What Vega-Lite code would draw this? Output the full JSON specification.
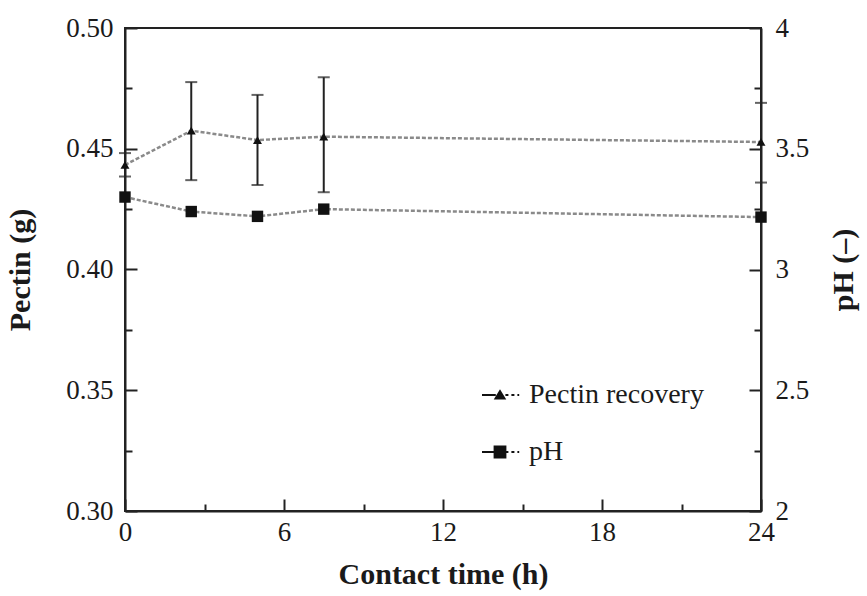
{
  "$schema": "https://vega.github.io/schema/vega-lite/v6.json",
  "width": 636,
  "height": 483,
  "autosize": {"type": "none"},
  "padding": {"left": 125, "top": 28, "right": 106, "bottom": 85},
  "background": "white",
  "config": {
    "view": {"stroke": "#222", "strokeWidth": 2},
    "font": "Liberation Serif",
    "axis": {
      "grid": false,
      "domainColor": "#222",
      "domainWidth": 2,
      "tickColor": "#222",
      "tickWidth": 2,
      "tickSize": 0,
      "labelFont": "Liberation Serif",
      "labelFontSize": 27,
      "labelColor": "#1a1a1a",
      "titleFont": "Liberation Serif",
      "titleFontSize": 30,
      "titleFontWeight": "bold",
      "titleColor": "#1a1a1a"
    }
  },
  "datasets": {
    "pectin": [
      {"time": 0, "pectin": 0.4433, "lo": 0.4385, "hi": 0.4482, "series": "Pectin recovery"},
      {"time": 2.5, "pectin": 0.4575, "lo": 0.437, "hi": 0.4776, "series": "Pectin recovery"},
      {"time": 5, "pectin": 0.4536, "lo": 0.435, "hi": 0.4723, "series": "Pectin recovery"},
      {"time": 7.5, "pectin": 0.455, "lo": 0.432, "hi": 0.4796, "series": "Pectin recovery"},
      {"time": 24, "pectin": 0.4528, "lo": 0.436, "hi": 0.469, "series": "Pectin recovery"}
    ],
    "ph": [
      {"time": 0, "ph": 3.30, "series": "pH"},
      {"time": 2.5, "ph": 3.24, "series": "pH"},
      {"time": 5, "ph": 3.22, "series": "pH"},
      {"time": 7.5, "ph": 3.25, "series": "pH"},
      {"time": 24, "ph": 3.217, "series": "pH"}
    ]
  },
  "encoding": {
    "x": {
      "field": "time",
      "type": "quantitative",
      "scale": {"domain": [0, 24], "nice": false},
      "axis": {
        "title": "Contact time (h)",
        "values": [0, 3, 6, 9, 12, 15, 18, 21, 24],
        "labelExpr": "datum.value % 6 === 0 ? '' + datum.value : ''",
        "labelFlush": false,
        "labelPadding": 8,
        "titlePadding": 14,
        "encoding": {"ticks": {"y2": {"value": {"expr": "datum.value % 6 === 0 ? -12 : -7"}}}}
      }
    }
  },
  "layer": [
    {
      "data": {"name": "pectin"},
      "encoding": {
        "y": {
          "field": "pectin",
          "type": "quantitative",
          "scale": {"domain": [0.3, 0.5], "nice": false, "zero": false},
          "axis": {
            "orient": "left",
            "title": "Pectin (g)",
            "values": [0.3, 0.325, 0.35, 0.375, 0.4, 0.425, 0.45, 0.475, 0.5],
            "labelExpr": "abs(round(datum.value * 1000)) % 50 === 0 ? format(datum.value, '.2f') : ''",
            "labelPadding": 12,
            "titlePadding": 30,
            "encoding": {"ticks": {"x2": {"value": {"expr": "abs(round(datum.value * 1000)) % 50 === 0 ? 12 : 7"}}}}
          }
        }
      },
      "layer": [
        {
          "mark": {"type": "line", "color": "#8a8a8a", "strokeWidth": 2.5, "strokeDash": [4, 2]}
        },
        {
          "mark": {"type": "rule", "color": "#222", "strokeWidth": 2},
          "encoding": {"y": {"field": "lo", "type": "quantitative"}, "y2": {"field": "hi"}}
        },
        {
          "mark": {"type": "tick", "color": "#222", "orient": "horizontal", "size": 12, "thickness": 2},
          "encoding": {"y": {"field": "lo", "type": "quantitative"}}
        },
        {
          "mark": {"type": "tick", "color": "#222", "orient": "horizontal", "size": 12, "thickness": 2},
          "encoding": {"y": {"field": "hi", "type": "quantitative"}}
        },
        {
          "mark": {"type": "point", "filled": true, "color": "#111", "opacity": 1, "size": 80, "shape": "triangle-up"}
        },
        {
          "mark": {"type": "point", "filled": true, "color": "#111", "stroke": "#111", "strokeWidth": 2, "opacity": 0},
          "encoding": {
            "shape": {
              "field": "series",
              "type": "nominal",
              "scale": {
                "domain": ["Pectin recovery", "pH"],
                "range": [
                  "M-3,0H-0.7M-0.75,0.6L0,-0.65L0.75,0.6ZM0.9,0H1.4M1.9,0H2.4M2.9,0H3.2",
                  "M-3,0H-0.9M-0.9,-0.9H0.9V0.9H-0.9ZM0.9,0H1.4M1.9,0H2.4M2.9,0H3.2"
                ]
              },
              "legend": {
                "title": null,
                "orient": "none",
                "legendX": 361,
                "legendY": 353,
                "padding": 0,
                "symbolSize": 144,
                "symbolOpacity": 1,
                "symbolFillColor": "#111",
                "symbolStrokeColor": "#111",
                "symbolStrokeWidth": 2,
                "labelFont": "Liberation Serif",
                "labelFontSize": 28,
                "labelColor": "#1a1a1a",
                "labelLimit": 0,
                "labelOffset": 15,
                "rowPadding": 29,
                "encoding": {
                  "symbols": {
                    "stroke": {"value": "#111"},
                    "strokeWidth": {"value": 2},
                    "fill": {"value": "#111"},
                    "opacity": {"value": 1}
                  }
                }
              }
            }
          }
        }
      ]
    },
    {
      "data": {"name": "ph"},
      "encoding": {
        "y": {
          "field": "ph",
          "type": "quantitative",
          "scale": {"domain": [2, 4], "nice": false, "zero": false},
          "axis": {
            "orient": "right",
            "title": "pH (–)",
            "titleAngle": -90,
            "values": [2, 2.25, 2.5, 2.75, 3, 3.25, 3.5, 3.75, 4],
            "labelExpr": "datum.value % 0.5 === 0 ? '' + datum.value : ''",
            "labelPadding": 14,
            "titlePadding": 50,
            "encoding": {"ticks": {"x2": {"value": {"expr": "datum.value % 0.5 === 0 ? -12 : -7"}}}}
          }
        }
      },
      "layer": [
        {
          "mark": {"type": "line", "color": "#8a8a8a", "strokeWidth": 2.5, "strokeDash": [4, 2]}
        },
        {
          "mark": {"type": "point", "filled": true, "color": "#111", "opacity": 1, "size": 130, "shape": "square"}
        }
      ]
    }
  ],
  "resolve": {"scale": {"y": "independent"}}
}
